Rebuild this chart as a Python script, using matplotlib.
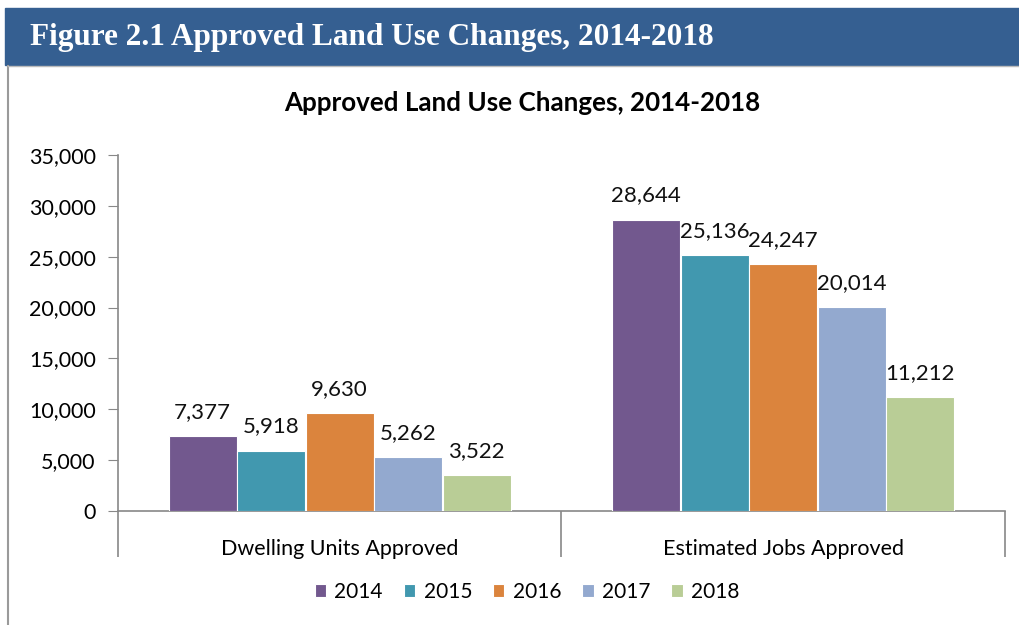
import numpy as np
import matplotlib.pyplot as plt
from matplotlib.patches import Rectangle
from matplotlib.lines import Line2D

# Data
categories = ['Dwelling Units Approved', 'Estimated Jobs Approved']
years = ['2014', '2015', '2016', '2017', '2018']
values = {
    '2014': [7377, 28644],
    '2015': [5918, 25136],
    '2016': [9630, 24247],
    '2017': [5262, 20014],
    '2018': [3522, 11212],
}
colors = ['#72588E', '#4198AF', '#DB843D', '#93A9CF', '#B9CD96']

plt.rcParams['font.family'] = ['Lato', 'DejaVu Sans']

fig = plt.figure(figsize=(10.2, 6.25), dpi=100)

# Header band
fig.patches.append(Rectangle((5 / 1020, 1 - 65 / 625), 1, 57 / 625,
                             transform=fig.transFigure, color='#355F91', zorder=0))
fig.text(30 / 1020, 1 - 37 / 625, 'Figure 2.1 Approved Land Use Changes, 2014-2018',
         color='white', fontsize=22.5, fontweight='bold', family='Liberation Serif',
         va='center', ha='left')
fig.add_artist(Line2D([8 / 1020, 8 / 1020], [0, 1 - 66 / 625],
                      transform=fig.transFigure, color='#9A9A9A', lw=1.5))
fig.add_artist(Line2D([8 / 1020, 1], [1 - 66 / 625, 1 - 66 / 625],
                      transform=fig.transFigure, color='#BBBBBB', lw=1))

ax = fig.add_axes([118 / 1020, 1 - 511 / 625, 887 / 1020, 356 / 625])

x = np.arange(len(categories))
w = 0.153
step = 0.1545
for i, yr in enumerate(years):
    pos = x + (i - 2) * step
    bars = ax.bar(pos, values[yr], width=w, color=colors[i], edgecolor='white',
                  linewidth=0.8, label=yr, zorder=3)
    for b, v in zip(bars, values[yr]):
        ax.text(b.get_x() + b.get_width() / 2, v + 1400, f'{v:,}',
                ha='center', va='bottom', fontsize=16, color='#111111')

ax.set_xlim(-0.5, 1.5)
ax.set_ylim(0, 35000)
ax.set_yticks(np.arange(0, 35001, 5000))
ax.set_yticklabels([f'{t:,}' for t in range(0, 35001, 5000)], fontsize=15.5)
ax.tick_params(axis='y', length=7, color='#888888', pad=9)

ax.set_xticks(x)
ax.set_xticklabels(categories, fontsize=15.5)
ax.tick_params(axis='x', which='major', length=0, pad=20)
ax.set_xticks([-0.5, 0.5, 1.5], minor=True)
ax.tick_params(axis='x', which='minor', length=33, color='#888888', width=1.2)

for s in ['top', 'right']:
    ax.spines[s].set_visible(False)
for s in ['left', 'bottom']:
    ax.spines[s].set_color('#888888')
    ax.spines[s].set_linewidth(1.2)

fig.text(522 / 1020, 1 - 103 / 625, 'Approved Land Use Changes, 2014-2018',
         ha='center', va='center', fontsize=18.7, fontweight='bold')

fig.legend(loc='center', bbox_to_anchor=(527 / 1020, 1 - 592 / 625), ncol=5,
           frameon=False, fontsize=15, handlelength=0.55, handleheight=0.55,
           handletextpad=0.4, columnspacing=1.0)

plt.savefig('out.png', dpi=100)
